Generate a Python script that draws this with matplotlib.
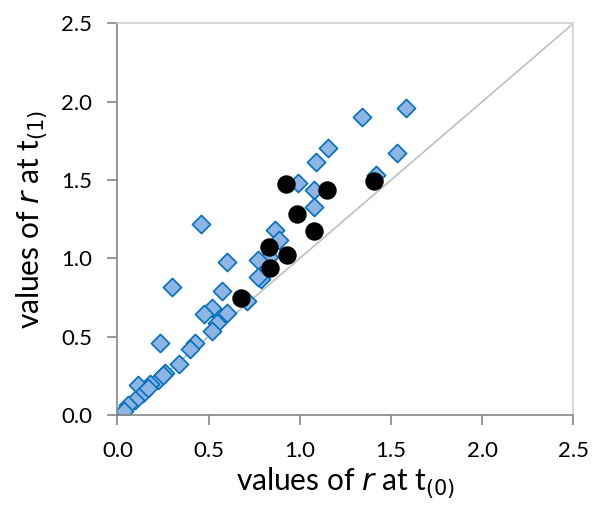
import numpy as np
import matplotlib
matplotlib.use("Agg")
import matplotlib.pyplot as plt

# r at t(0) / t(1) - all records (diamonds)
x_all = [1.583, 1.340, 1.535, 1.153, 1.089, 1.418, 0.992, 1.080, 1.075, 0.865,
         0.887, 0.457, 0.830, 0.773, 0.600, 0.792, 0.786, 0.298, 0.575, 0.712,
         0.516, 0.476, 0.600, 0.545, 0.517, 0.235, 0.426, 0.399, 0.335, 0.262,
         0.225, 0.180, 0.115, 0.143, 0.097, 0.060, 0.035, 0.170, 0.252, 0.773]
y_all = [1.958, 1.901, 1.675, 1.703, 1.614, 1.535, 1.480, 1.437, 1.325, 1.178,
         1.117, 1.220, 1.007, 0.990, 0.979, 0.894, 0.868, 0.815, 0.794, 0.724,
         0.681, 0.641, 0.649, 0.586, 0.536, 0.458, 0.458, 0.420, 0.324, 0.270,
         0.224, 0.200, 0.188, 0.139, 0.096, 0.066, 0.025, 0.170, 0.255, 0.883]

# highlighted records (black circles)
x_sel = [0.925, 1.151, 1.407, 0.982, 1.076, 0.830, 0.932, 0.839, 0.678]
y_sel = [1.473, 1.439, 1.494, 1.282, 1.174, 1.073, 1.020, 0.941, 0.745]

ticks = [0.0, 0.5, 1.0, 1.5, 2.0, 2.5]

plt.rcParams['font.family'] = ['Lato', 'DejaVu Sans']

fig = plt.figure(figsize=(5.93, 5.09), dpi=100)
ax = fig.add_axes([0.198, 0.185, 0.769, 0.769])

ax.plot([0, 2.5], [0, 2.5], color='#BFBFBF', lw=1.2, zorder=1)
ax.scatter(x_all, y_all, marker='D', s=85, facecolor='#8DB4E2',
           edgecolor='#0070C0', linewidth=1.2, zorder=2)
ax.scatter(x_sel, y_sel, marker='o', s=150, color='black', zorder=3)

ax.set_xlim(0, 2.5)
ax.set_ylim(0, 2.5)
ax.set_xticks(ticks)
ax.set_yticks(ticks)
ax.set_xticklabels([f"{t:.1f}" for t in ticks])
ax.set_yticklabels([f"{t:.1f}" for t in ticks])

for s in ['left', 'bottom']:
    ax.spines[s].set_color('#868686')
    ax.spines[s].set_linewidth(1.2)
for s in ['right', 'top']:
    ax.spines[s].set_color('#D0D0D0')
    ax.spines[s].set_linewidth(1.2)

ax.tick_params(direction='out', length=7, width=1.2, color='#868686',
               labelsize=16)
ax.tick_params(axis='x', pad=12)
ax.tick_params(axis='y', pad=11)

ax.set_xlabel(r"values of $\it{r}$ at t$_{(0)}$", fontsize=21.5, labelpad=3)
ax.set_ylabel(r"values of $\it{r}$ at t$_{(1)}$", fontsize=21.5, labelpad=8)

fig.savefig("out.png", dpi=100)
